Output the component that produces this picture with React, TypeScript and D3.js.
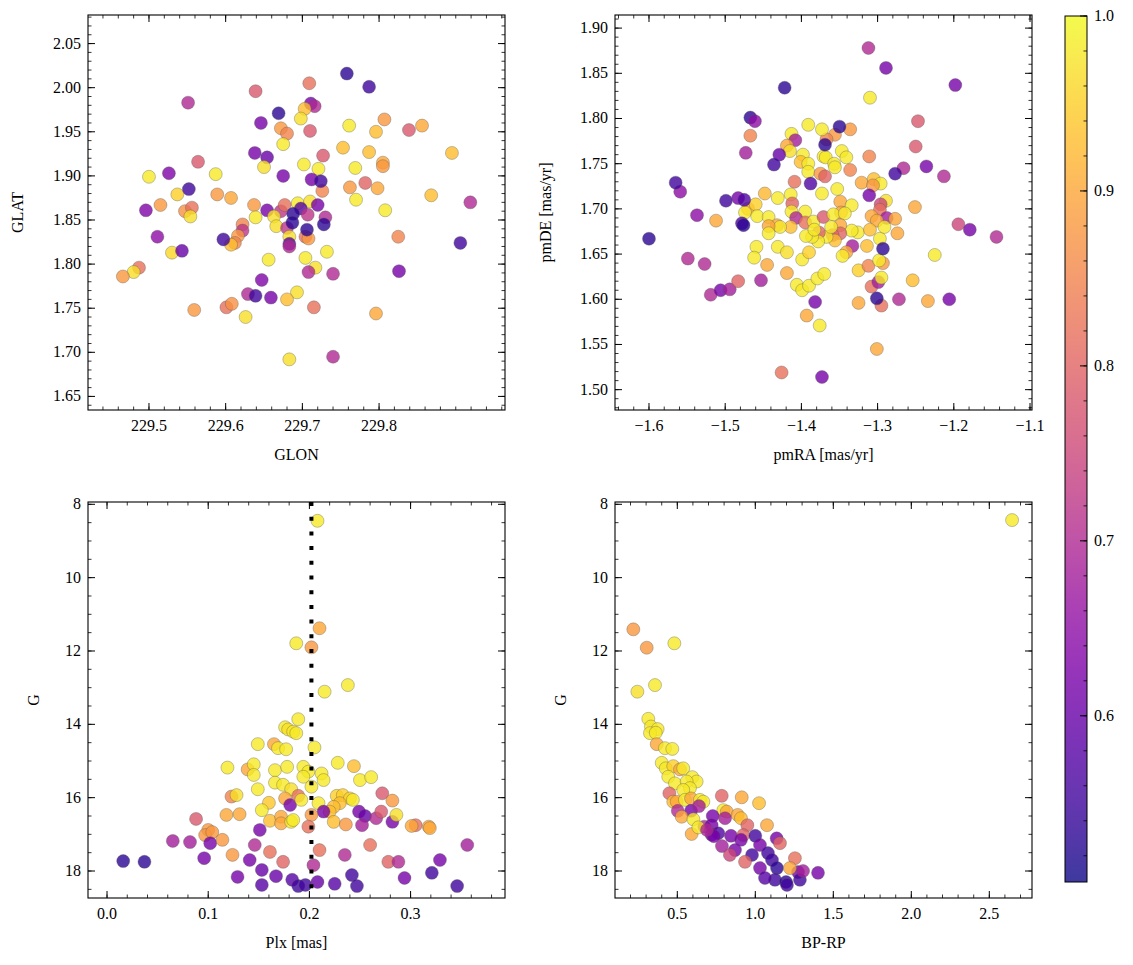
import React from "react";
import * as d3 from "d3";

const FONT = "'Liberation Serif','Times New Roman',serif";
const FS = 16;

// [GLON, GLAT, membership probability]
const skyStars: number[][] = [
  [229.639,1.996,0.78],[229.551,1.983,0.70],[229.646,1.960,0.62],[229.672,1.954,0.88],[229.680,1.948,0.85],
  [229.675,1.936,0.98],[229.638,1.926,0.62],[229.654,1.921,0.60],[229.650,1.910,0.97],[229.564,1.916,0.78],
  [229.675,1.900,0.62],[229.526,1.903,0.63],[229.500,1.899,0.98],[229.587,1.902,0.98],[229.537,1.879,0.95],
  [229.589,1.879,0.88],[229.607,1.875,0.90],[229.515,1.867,0.88],[229.496,1.861,0.63],[229.547,1.860,0.87],
  [229.556,1.864,0.82],[229.554,1.854,0.97],[229.637,1.867,0.88],[229.639,1.853,0.98],[229.654,1.861,0.62],
  [229.672,1.860,0.72],[229.622,1.845,0.85],[229.622,1.838,0.72],[229.616,1.832,0.88],[229.612,1.824,0.85],
  [229.607,1.822,0.93],[229.511,1.831,0.65],[229.530,1.813,0.96],[229.543,1.815,0.60],[229.656,1.805,0.98],
  [229.647,1.782,0.63],[229.487,1.796,0.82],[229.480,1.791,0.97],[229.466,1.786,0.88],[229.663,1.854,0.97],
  [229.666,1.843,0.97],[229.680,1.841,0.72],[229.694,1.869,0.98],[229.677,1.867,0.82],[229.710,1.871,0.97],
  [229.683,1.831,0.97],[229.704,1.831,0.82],[229.708,1.829,0.88],[229.770,1.873,0.98],[229.808,1.861,0.98],
  [229.868,1.878,0.93],[229.919,1.870,0.70],[229.825,1.831,0.85],[229.826,1.792,0.62],[229.704,1.807,0.98],
  [229.717,1.796,0.97],[229.732,1.814,0.98],[229.708,1.791,0.70],[229.740,1.789,0.70],[229.629,1.766,0.70],
  [229.659,1.762,0.62],[229.693,1.768,0.97],[229.680,1.760,0.93],[229.559,1.748,0.88],[229.601,1.751,0.82],
  [229.608,1.755,0.87],[229.626,1.740,0.97],[229.715,1.751,0.82],[229.796,1.744,0.90],[229.683,1.692,0.97],
  [229.740,1.695,0.70],[229.709,2.005,0.82],[229.711,1.982,0.62],[229.716,1.979,0.70],[229.703,1.976,0.93],
  [229.698,1.965,0.97],[229.710,1.951,0.78],[229.761,1.957,0.98],[229.807,1.964,0.88],[229.796,1.950,0.93],
  [229.839,1.952,0.78],[229.856,1.957,0.90],[229.727,1.923,0.78],[229.702,1.913,0.98],[229.721,1.908,0.98],
  [229.753,1.932,0.93],[229.787,1.927,0.93],[229.769,1.909,0.98],[229.805,1.915,0.90],[229.805,1.911,0.88],
  [229.895,1.926,0.93],[229.712,1.896,0.62],[229.726,1.883,0.85],[229.762,1.887,0.88],[229.782,1.892,0.80],
  [229.798,1.886,0.90],[229.683,1.823,0.58],[229.683,1.820,0.70],[229.698,1.863,0.58],[229.707,1.856,0.72],
  [229.720,1.867,0.62],[229.730,1.853,0.70],[229.688,1.857,0.53],[229.687,1.847,0.53],[229.706,1.839,0.53],
  [229.728,1.845,0.53],[229.669,1.971,0.53],[229.552,1.885,0.55],[229.597,1.828,0.55],[229.639,1.764,0.55],
  [229.906,1.824,0.55],[229.724,1.894,0.55],[229.758,2.016,0.53],[229.787,2.001,0.55]
];

// [pmRA, pmDE, membership probability]
const pmStars: number[][] = [
  [-1.467,1.781,0.85],[-1.473,1.762,0.68],[-1.391,1.793,0.98],[-1.413,1.783,0.98],[-1.408,1.776,0.68],
  [-1.419,1.770,0.90],[-1.415,1.764,0.97],[-1.429,1.760,0.60],[-1.398,1.760,0.98],[-1.401,1.752,0.93],
  [-1.391,1.750,0.98],[-1.391,1.741,0.98],[-1.375,1.739,0.88],[-1.369,1.736,0.80],[-1.371,1.758,0.98],
  [-1.409,1.730,0.82],[-1.559,1.719,0.65],[-1.483,1.712,0.62],[-1.448,1.717,0.92],[-1.431,1.712,0.98],
  [-1.414,1.716,0.98],[-1.412,1.706,0.80],[-1.413,1.697,0.98],[-1.395,1.697,0.98],[-1.373,1.717,0.98],
  [-1.470,1.700,0.90],[-1.460,1.705,0.95],[-1.474,1.696,0.98],[-1.458,1.692,0.98],[-1.443,1.691,0.98],
  [-1.537,1.693,0.65],[-1.512,1.687,0.90],[-1.432,1.682,0.90],[-1.407,1.690,0.70],[-1.395,1.685,0.82],
  [-1.384,1.686,0.98],[-1.371,1.691,0.78],[-1.312,1.878,0.70],[-1.289,1.856,0.62],[-1.198,1.837,0.62],
  [-1.310,1.823,0.98],[-1.247,1.797,0.78],[-1.250,1.769,0.78],[-1.336,1.788,0.88],[-1.356,1.782,0.88],
  [-1.367,1.777,0.85],[-1.373,1.788,0.98],[-1.347,1.764,0.98],[-1.341,1.757,0.98],[-1.368,1.757,0.98],
  [-1.357,1.750,0.98],[-1.356,1.746,0.98],[-1.336,1.743,0.85],[-1.311,1.758,0.85],[-1.266,1.745,0.70],
  [-1.236,1.747,0.62],[-1.213,1.736,0.70],[-1.321,1.729,0.90],[-1.305,1.733,0.93],[-1.296,1.728,0.98],
  [-1.306,1.726,0.88],[-1.353,1.722,0.98],[-1.311,1.715,0.62],[-1.289,1.709,0.97],[-1.296,1.705,0.75],
  [-1.297,1.699,0.82],[-1.288,1.690,0.68],[-1.277,1.689,0.90],[-1.251,1.702,0.90],[-1.349,1.708,0.90],
  [-1.334,1.704,0.98],[-1.348,1.696,0.90],[-1.358,1.694,0.98],[-1.343,1.695,0.98],[-1.308,1.692,0.90],
  [-1.301,1.687,0.90],[-1.194,1.683,0.75],[-1.179,1.677,0.62],[-1.549,1.645,0.70],[-1.527,1.639,0.70],
  [-1.519,1.605,0.70],[-1.506,1.610,0.62],[-1.494,1.611,0.68],[-1.483,1.620,0.80],[-1.453,1.621,0.68],
  [-1.459,1.658,0.98],[-1.462,1.646,0.98],[-1.445,1.638,0.90],[-1.431,1.658,0.98],[-1.419,1.652,0.97],
  [-1.419,1.629,0.90],[-1.406,1.616,0.98],[-1.399,1.610,0.98],[-1.390,1.615,0.98],[-1.379,1.623,0.98],
  [-1.370,1.628,0.98],[-1.399,1.644,0.98],[-1.390,1.652,0.95],[-1.382,1.597,0.62],[-1.393,1.582,0.90],
  [-1.376,1.571,0.98],[-1.426,1.519,0.82],[-1.373,1.514,0.62],[-1.301,1.545,0.90],[-1.325,1.596,0.90],
  [-1.295,1.593,0.82],[-1.272,1.600,0.70],[-1.234,1.598,0.90],[-1.206,1.600,0.62],[-1.308,1.614,0.82],
  [-1.299,1.619,0.68],[-1.295,1.624,0.98],[-1.325,1.632,0.95],[-1.312,1.637,0.85],[-1.293,1.640,0.88],
  [-1.298,1.643,0.98],[-1.254,1.621,0.93],[-1.225,1.649,0.98],[-1.297,1.667,0.98],[-1.314,1.659,0.93],
  [-1.274,1.673,0.90],[-1.144,1.669,0.70],[-1.333,1.659,0.68],[-1.341,1.652,0.90],[-1.346,1.648,0.98],
  [-1.326,1.674,0.98],[-1.334,1.676,0.98],[-1.310,1.677,0.93],[-1.291,1.680,0.98],[-1.349,1.682,0.90],
  [-1.349,1.673,0.80],[-1.359,1.671,0.80],[-1.356,1.665,0.93],[-1.367,1.669,0.98],[-1.361,1.680,0.98],
  [-1.377,1.674,0.80],[-1.378,1.664,0.98],[-1.386,1.669,0.98],[-1.394,1.670,0.98],[-1.383,1.677,0.98],
  [-1.414,1.680,0.93],[-1.428,1.680,0.98],[-1.443,1.681,0.90],[-1.443,1.673,0.98],
  [-1.422,1.834,0.53],[-1.467,1.801,0.53],[-1.461,1.797,0.65],[-1.436,1.749,0.55],[-1.369,1.771,0.53],
  [-1.388,1.728,0.57],[-1.565,1.729,0.55],[-1.499,1.709,0.55],[-1.475,1.710,0.57],[-1.478,1.684,0.57],
  [-1.476,1.682,0.53],[-1.350,1.791,0.53],[-1.277,1.739,0.55],[-1.600,1.667,0.53],[-1.301,1.601,0.53],
  [-1.293,1.656,0.53]
];

// [Plx, G, membership probability]
const plxStars: number[][] = [
  [0.208,8.45,0.98],[0.210,11.38,0.90],[0.187,11.79,0.98],[0.202,11.90,0.88],[0.215,13.11,0.98],
  [0.238,12.93,0.98],[0.189,13.86,0.98],[0.176,14.08,0.98],[0.179,14.14,0.97],[0.184,14.20,0.98],
  [0.187,14.24,0.98],[0.149,14.54,0.98],[0.165,14.54,0.90],[0.169,14.65,0.98],[0.177,14.68,0.98],
  [0.205,14.63,0.98],[0.119,15.18,0.98],[0.139,15.23,0.90],[0.145,15.09,0.98],[0.145,15.38,0.98],
  [0.166,15.25,0.98],[0.178,15.16,0.98],[0.166,15.59,0.98],[0.174,15.65,0.98],[0.182,15.77,0.97],
  [0.149,15.77,0.98],[0.123,15.97,0.85],[0.128,15.93,0.97],[0.176,16.02,0.90],[0.160,16.14,0.94],
  [0.153,16.34,0.98],[0.181,16.20,0.62],[0.189,15.95,0.82],[0.118,16.47,0.90],[0.131,16.45,0.90],
  [0.088,16.58,0.78],[0.161,16.63,0.93],[0.172,16.52,0.90],[0.172,16.70,0.90],[0.182,16.66,0.98],
  [0.100,16.88,0.88],[0.151,16.88,0.62],[0.228,15.05,0.98],[0.244,15.14,0.93],[0.250,15.52,0.98],
  [0.261,15.44,0.98],[0.194,15.16,0.98],[0.199,15.29,0.98],[0.194,15.43,0.98],[0.212,15.34,0.98],
  [0.214,15.52,0.98],[0.202,15.70,0.98],[0.192,16.06,0.98],[0.209,16.15,0.98],[0.227,15.95,0.95],
  [0.233,15.93,0.95],[0.240,16.02,0.95],[0.230,16.15,0.93],[0.224,16.25,0.93],[0.220,16.38,0.93],
  [0.243,16.06,0.98],[0.272,15.88,0.78],[0.282,16.08,0.88],[0.249,16.38,0.62],[0.255,16.50,0.60],
  [0.266,16.56,0.70],[0.271,16.38,0.78],[0.282,16.66,0.62],[0.286,16.47,0.97],[0.214,16.38,0.62],
  [0.224,16.66,0.93],[0.202,16.47,0.88],[0.184,16.61,0.98],[0.236,16.73,0.88],[0.252,16.75,0.68],
  [0.305,16.75,0.82],[0.301,16.77,0.90],[0.318,16.79,0.90],[0.199,16.79,0.82],
  [0.065,17.18,0.68],[0.097,17.02,0.88],[0.104,16.94,0.88],[0.096,17.65,0.62],[0.102,17.24,0.62],
  [0.114,17.15,0.88],[0.124,17.56,0.88],[0.129,18.16,0.62],[0.141,17.70,0.62],[0.153,17.97,0.60],
  [0.153,18.38,0.58],[0.167,18.14,0.60],[0.174,17.75,0.80],[0.183,18.24,0.58],[0.189,18.41,0.55],
  [0.196,18.38,0.55],[0.208,18.30,0.60],[0.204,17.84,0.70],[0.210,17.43,0.82],[0.225,18.35,0.58],
  [0.242,18.11,0.55],[0.247,18.41,0.55],[0.235,17.56,0.70],[0.260,17.29,0.82],[0.278,17.75,0.80],
  [0.288,17.75,0.70],[0.294,18.19,0.62],[0.321,18.05,0.55],[0.329,17.70,0.62],[0.346,18.41,0.55],
  [0.356,17.29,0.68],[0.319,16.83,0.90],[0.161,17.48,0.82],[0.146,17.29,0.70],[0.082,17.21,0.68],
  [0.016,17.73,0.53],[0.037,17.75,0.53]
];

// [BP-RP, G, membership probability]
const cmdStars: number[][] = [
  [0.218,11.41,0.88],[0.304,11.91,0.88],[0.481,11.79,0.98],[0.244,13.11,0.97],[0.357,12.93,0.98],
  [0.314,13.85,0.98],[0.331,14.06,0.98],[0.374,14.13,0.98],[0.325,14.24,0.98],[0.362,14.23,0.98],
  [0.368,14.54,0.90],[0.421,14.65,0.98],[0.468,14.67,0.98],[0.400,15.05,0.98],[0.426,15.20,0.98],
  [0.474,15.14,0.95],[0.517,15.23,0.90],[0.538,15.20,0.98],[0.442,15.43,0.98],[0.485,15.61,0.98],
  [0.596,15.44,0.98],[0.624,15.56,0.98],[0.560,15.56,0.98],[0.581,15.74,0.98],[0.538,15.79,0.98],
  [0.449,15.88,0.80],[0.474,16.11,0.93],[0.496,16.11,0.90],[0.549,16.06,0.98],[0.588,16.02,0.90],
  [0.645,16.06,0.98],[0.667,16.11,0.98],[0.503,16.36,0.70],[0.588,16.36,0.62],[0.639,16.23,0.68],
  [0.528,16.52,0.90],[0.603,16.59,0.98],[0.592,16.99,0.90],[0.785,15.95,0.80],[0.913,15.99,0.90],
  [1.024,16.15,0.93],[0.795,16.34,0.98],[0.817,16.38,0.90],[0.727,16.50,0.62],[0.806,16.56,0.68],
  [0.887,16.47,0.90],[0.908,16.56,0.93],[0.673,16.79,0.70],[0.720,16.75,0.62],[0.763,16.97,0.57],
  [0.720,17.01,0.62],[0.844,17.04,0.62],[0.949,16.75,0.80],[0.923,17.02,0.80],[1.000,17.04,0.55],
  [1.075,16.75,0.90],[1.137,17.11,0.62],[0.635,16.81,0.98],[0.734,17.05,0.62],[0.786,17.32,0.68],
  [0.870,17.43,0.62],[0.908,17.15,0.62],[0.979,17.56,0.55],[1.030,17.29,0.62],[1.081,17.51,0.55],
  [1.107,17.70,0.55],[1.139,17.92,0.53],[1.126,18.24,0.55],[1.197,18.30,0.53],[1.203,18.38,0.55],
  [1.274,18.03,0.62],[1.286,18.24,0.55],[1.306,18.00,0.68],[1.402,18.05,0.62],[1.158,17.24,0.80],
  [1.254,17.65,0.82],[1.222,17.92,0.90],[0.934,17.75,0.80],[0.837,17.56,0.75],[1.030,17.92,0.62],
  [1.062,18.19,0.58],[0.690,16.88,0.70],[2.646,8.43,0.98]
];

const glonTicks = [229.5, 229.6, 229.7, 229.8];
const glatTicks = [1.65, 1.7, 1.75, 1.8, 1.85, 1.9, 1.95, 2.0, 2.05];
const pmraTicks = [-1.6, -1.5, -1.4, -1.3, -1.2, -1.1];
const pmdeTicks = [1.5, 1.55, 1.6, 1.65, 1.7, 1.75, 1.8, 1.85, 1.9];
const plxTicks = [0.0, 0.1, 0.2, 0.3];
const gTicks = [8, 10, 12, 14, 16, 18];
const bprpTicks = [0.5, 1.0, 1.5, 2.0, 2.5];
const probTicks = [0.6, 0.7, 0.8, 0.9, 1.0];
const plxCut = 0.202;
const probRange = [0.505, 1.0];

const colorOf = (p: number) =>
  d3.interpolatePlasma((p - probRange[0]) / (probRange[1] - probRange[0]));

function minorRange(d: number[], step: number) {
  const lo = Math.min(d[0], d[1]);
  const hi = Math.max(d[0], d[1]);
  const out: number[] = [];
  for (let k = Math.ceil(lo / step - 1e-6); k * step <= hi + 1e-9; k++) out.push(k * step);
  return out;
}

type PanelProps = {
  id: string;
  left: number; top: number; width: number; height: number;
  xDomain: number[]; yDomain: number[];
  xTicks: number[]; yTicks: number[];
  xMinor: number; yMinor: number;
  xFmt: string; yFmt: string;
  xLabel: string; yLabel: string; yLabelX: number;
  stars: number[][];
  vline?: number;
};

function Panel(p: PanelProps) {
  const x = d3.scaleLinear().domain(p.xDomain).range([p.left, p.left + p.width]);
  const y = d3.scaleLinear().domain(p.yDomain).range([p.top + p.height, p.top]);
  const bottom = p.top + p.height;
  const right = p.left + p.width;
  const fx = d3.format(p.xFmt);
  const fy = d3.format(p.yFmt);
  const MAJ = 7, MIN = 3.5;
  const xm = minorRange(p.xDomain, p.xMinor);
  const ym = minorRange(p.yDomain, p.yMinor);
  return (
    <g>
      <defs>
        <clipPath id={p.id}>
          <rect x={p.left} y={p.top} width={p.width} height={p.height} />
        </clipPath>
      </defs>
      <g clipPath={`url(#${p.id})`}>
        {p.stars.map((s, i) => (
          <circle key={i} cx={x(s[0])} cy={y(s[1])} r={6.5}
            fill={colorOf(s[2])} fillOpacity={0.8}
            stroke="#555" strokeOpacity={0.7} strokeWidth={0.5} />
        ))}
        {p.vline !== undefined && (
          <line x1={x(p.vline)} x2={x(p.vline)} y1={p.top} y2={bottom}
            stroke="#000" strokeWidth={4} strokeDasharray="4 10.7" />
        )}
      </g>
      <rect x={p.left} y={p.top} width={p.width} height={p.height} fill="none" stroke="#000" strokeWidth={1.1} />
      {xm.map((v, i) => (
        <g key={"xm" + i}>
          <line x1={x(v)} x2={x(v)} y1={bottom} y2={bottom - MIN} stroke="#000" strokeWidth={0.8} />
          <line x1={x(v)} x2={x(v)} y1={p.top} y2={p.top + MIN} stroke="#000" strokeWidth={0.8} />
        </g>
      ))}
      {ym.map((v, i) => (
        <g key={"ym" + i}>
          <line x1={p.left} x2={p.left + MIN} y1={y(v)} y2={y(v)} stroke="#000" strokeWidth={0.8} />
          <line x1={right} x2={right - MIN} y1={y(v)} y2={y(v)} stroke="#000" strokeWidth={0.8} />
        </g>
      ))}
      {p.xTicks.map((v, i) => (
        <g key={"xt" + i}>
          <line x1={x(v)} x2={x(v)} y1={bottom} y2={bottom - MAJ} stroke="#000" strokeWidth={1} />
          <line x1={x(v)} x2={x(v)} y1={p.top} y2={p.top + MAJ} stroke="#000" strokeWidth={1} />
          <text x={x(v)} y={bottom + 21} textAnchor="middle" fontFamily={FONT} fontSize={FS}>{fx(v)}</text>
        </g>
      ))}
      {p.yTicks.map((v, i) => (
        <g key={"yt" + i}>
          <line x1={p.left} x2={p.left + MAJ} y1={y(v)} y2={y(v)} stroke="#000" strokeWidth={1} />
          <line x1={right} x2={right - MAJ} y1={y(v)} y2={y(v)} stroke="#000" strokeWidth={1} />
          <text x={p.left - 7} y={y(v) + 5} textAnchor="end" fontFamily={FONT} fontSize={FS}>{fy(v)}</text>
        </g>
      ))}
      <text x={p.left + p.width / 2} y={bottom + 50} textAnchor="middle" fontFamily={FONT} fontSize={FS}>{p.xLabel}</text>
      <text transform={`translate(${p.yLabelX},${p.top + p.height / 2}) rotate(-90)`} textAnchor="middle"
        fontFamily={FONT} fontSize={FS}>{p.yLabel}</text>
    </g>
  );
}

function Colorbar() {
  const left = 1065, top = 16, width = 22, height = 866;
  const y = d3.scaleLinear().domain(probRange).range([top + height, top]);
  const stops = d3.range(0, 1.0001, 0.05);
  const minor = minorRange(probRange, 0.02);
  return (
    <g>
      <defs>
        <linearGradient id="cbar" x1="0" y1="1" x2="0" y2="0">
          {stops.map((t, i) => (
            <stop key={i} offset={t} stopColor={d3.interpolatePlasma(t)} />
          ))}
        </linearGradient>
      </defs>
      <rect x={left} y={top} width={width} height={height} fill="url(#cbar)" fillOpacity={0.8} />
      <rect x={left} y={top} width={width} height={height} fill="none" stroke="#000" strokeWidth={1} />
      {minor.map((v, i) => (
        <line key={"m" + i} x1={left + width} x2={left + width - 3.5} y1={y(v)} y2={y(v)} stroke="#000" strokeWidth={0.8} />
      ))}
      {probTicks.map((v, i) => (
        <g key={i}>
          <line x1={left + width} x2={left + width - 7} y1={y(v)} y2={y(v)} stroke="#000" strokeWidth={1} />
          <text x={left + width + 7} y={y(v) + 5} fontFamily={FONT} fontSize={FS}>{d3.format(".1f")(v)}</text>
        </g>
      ))}
    </g>
  );
}

export default function App() {
  return (
    <svg width={1133} height={965} style={{ position: "absolute", left: 0, top: 0, background: "#fff" }}>
      <rect width={1133} height={965} fill="#fff" />
      <Panel id="c1" left={88} top={15} width={417} height={395}
        xDomain={[229.4205, 229.9642]} yDomain={[1.6346, 2.0824]}
        xTicks={glonTicks} yTicks={glatTicks} xMinor={0.02} yMinor={0.01}
        xFmt=".1f" yFmt=".2f" xLabel="GLON" yLabel="GLAT" yLabelX={23} stars={skyStars} />
      <Panel id="c2" left={615} top={15} width={417} height={395}
        xDomain={[-1.6446, -1.0974]} yDomain={[1.4775, 1.9145]}
        xTicks={pmraTicks} yTicks={pmdeTicks} xMinor={0.02} yMinor={0.01}
        xFmt=".1f" yFmt=".2f" xLabel="pmRA [mas/yr]" yLabel="pmDE [mas/yr]" yLabelX={551} stars={pmStars} />
      <Panel id="c3" left={88} top={502} width={417} height={396}
        xDomain={[-0.0188, 0.3933]} yDomain={[18.736, 7.937]}
        xTicks={plxTicks} yTicks={gTicks} xMinor={0.02} yMinor={0.5}
        xFmt=".1f" yFmt="d" xLabel="Plx [mas]" yLabel="G" yLabelX={39} stars={plxStars} vline={plxCut} />
      <Panel id="c4" left={615} top={502} width={417} height={396}
        xDomain={[0.1006, 2.7737]} yDomain={[18.736, 7.937]}
        xTicks={bprpTicks} yTicks={gTicks} xMinor={0.1} yMinor={0.5}
        xFmt=".1f" yFmt="d" xLabel="BP-RP" yLabel="G" yLabelX={566} stars={cmdStars} />
      <Colorbar />
    </svg>
  );
}
